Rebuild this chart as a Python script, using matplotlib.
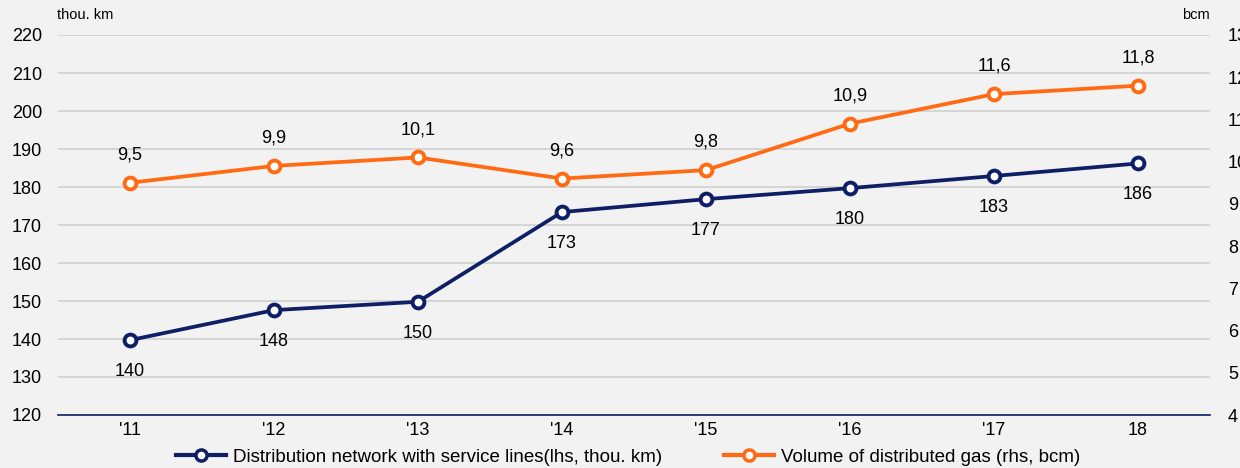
import matplotlib
matplotlib.use("Agg")
import matplotlib.pyplot as plt
from matplotlib.lines import Line2D

plt.rcParams['font.family'] = ['Liberation Sans', 'DejaVu Sans']

years = ["'11", "'12", "'13", "'14", "'15", "'16", "'17", "18"]
network = [139.7, 147.6, 149.8, 173.4, 176.8, 179.7, 182.9, 186.2]
network_labels = ["140", "148", "150", "173", "177", "180", "183", "186"]
gas = [9.5, 9.9, 10.1, 9.6, 9.8, 10.9, 11.6, 11.8]
gas_labels = ["9,5", "9,9", "10,1", "9,6", "9,8", "10,9", "11,6", "11,8"]

BG = "#f2f2f2"
NAVY = "#0f1f66"
ORANGE = "#ff6a13"

fig = plt.figure(figsize=(12.4, 4.68), dpi=100, facecolor=BG)
ax = fig.add_axes([58/1240, 1-415/468, (1210-58)/1240, (415-35)/468])
ax.set_facecolor(BG)
ax2 = ax.twinx()

x = list(range(len(years)))
ax.set_xlim(-0.5, len(years)-0.5)
ax.set_ylim(120, 220)
ax2.set_ylim(4, 13)
ax.set_yticks(range(120, 221, 10))
ax2.set_yticks(range(4, 14))

for a in (ax, ax2):
    for s in a.spines.values():
        s.set_visible(False)
ax.spines['bottom'].set_visible(True)
ax.spines['bottom'].set_color(NAVY)
ax.spines['bottom'].set_linewidth(1.2)

ax.grid(axis='y', color='#d0d0d0', linewidth=1.2)
ax.set_axisbelow(True)
ax.set_xticks(x)
ax.set_xticklabels(years)
ax.tick_params(axis='x', length=0, pad=5, labelsize=13)
ax.tick_params(axis='y', length=0, pad=11.5, labelsize=13)
ax2.tick_params(axis='y', length=0, pad=13, labelsize=13)
ax.patch.set_visible(False)
ax2.patch.set_visible(False)
ax.set_zorder(1); ax2.set_zorder(2)

ax.plot(x, network, color=NAVY, lw=2.7, marker='o', ms=8.5, mfc='white', mec=NAVY, mew=2.8, zorder=3)
ax2.plot(x, gas, color=ORANGE, lw=2.7, marker='o', ms=8.5, mfc='white', mec=ORANGE, mew=2.8, zorder=3)

for xi, v, lab in zip(x, network, network_labels):
    ax.annotate(lab, (xi, v), xytext=(0, -22.5), textcoords='offset points',
                ha='center', va='center', fontsize=13)
for xi, v, lab in zip(x, gas, gas_labels):
    ax2.annotate(lab, (xi, v), xytext=(0, 20), textcoords='offset points',
                 ha='center', va='center', fontsize=13)

fig.text(57/1240, 1-15/468, "thou. km", fontsize=10.5, va='center', ha='left')
fig.text(1210/1240, 1-15/468, "bcm", fontsize=10.5, va='center', ha='right')

h1 = Line2D([0], [0], color=NAVY, lw=3, marker='o', ms=8, mfc='white', mec=NAVY, mew=2.5)
h2 = Line2D([0], [0], color=ORANGE, lw=3, marker='o', ms=8, mfc='white', mec=ORANGE, mew=2.5)
fig.legend([h1, h2], ["Distribution network with service lines(lhs, thou. km)",
                      "Volume of distributed gas (rhs, bcm)"],
           loc='center', bbox_to_anchor=(628/1240, 1-457/468), ncol=2, frameon=False,
           fontsize=13.5, handlelength=2.67, handletextpad=0.37, columnspacing=3.3)

fig.savefig("out.png", dpi=100, facecolor=BG)
